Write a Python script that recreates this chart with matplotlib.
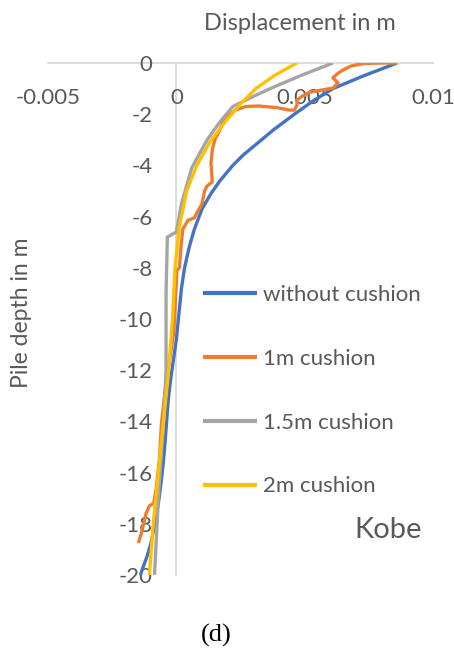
import matplotlib
matplotlib.use('Agg')
import matplotlib.pyplot as plt

plt.rcParams['font.family'] = ['Lato', 'DejaVu Sans']

# displacement (m) vs pile depth (m)
blue_x = [0.0086, 0.0073, 0.0061, 0.0053, 0.0046, 0.0038, 0.0032, 0.0026, 0.0022,
          0.0017, 0.00135, 0.0010, 0.0007, 0.0005, 0.00032, 0.0002, 0.0001, 0.0,
          -0.0001, -0.0002, -0.0003, -0.00035, -0.0004, -0.00047, -0.00055,
          -0.00062, -0.0007, -0.0008, -0.0009, -0.0010, -0.00115, -0.0013, -0.0014]
blue_y = [0, -0.5, -1.0, -1.5, -2.0, -2.6, -3.1, -3.6, -4.0, -4.6, -5.1, -5.7, -6.5,
          -7.2, -8.0, -8.8, -9.8, -10.8, -11.5, -12.2, -13.0, -13.6, -14.3, -15.2,
          -16.0, -16.6, -17.2, -17.8, -18.3, -18.8, -19.3, -19.7, -20.0]

orange_x = [0.0086, 0.0080, 0.0073, 0.0068, 0.0065, 0.0063, 0.0061, 0.0063, 0.0061,
            0.0057, 0.0052, 0.0049, 0.0047, 0.0047, 0.0046, 0.0044, 0.0039, 0.0032,
            0.0027, 0.0023, 0.0019, 0.0017, 0.0015, 0.0014, 0.00135, 0.0014, 0.0012,
            0.0011, 0.0010, 0.0008, 0.0007, 0.00045, 0.00025, 0.00018, 0.00012,
            0.00002, -0.00005, -0.0001, -0.00025, -0.00045, -0.00058, -0.00066,
            -0.00078, -0.00088, -0.00105, -0.00118, -0.00137, -0.00148]
orange_y = [0, 0, -0.02, -0.12, -0.27, -0.4, -0.58, -0.78, -0.98, -1.05, -1.14, -1.3,
            -1.45, -1.64, -1.84, -1.84, -1.74, -1.68, -1.7, -1.84, -2.15, -2.6, -3.0,
            -3.4, -3.9, -4.65, -4.8, -5.0, -5.5, -5.85, -6.05, -6.15, -6.5, -7.2,
            -8.0, -8.1, -9.6, -10.5, -11.5, -12.9, -14.1, -15.5, -16.6, -17.2, -17.3,
            -17.6, -18.4, -18.75]

gray_x = [0.0061, 0.0049, 0.0037, 0.0029, 0.0022, 0.0017, 0.0012, 0.0006, 0.0002,
          0.0, -0.00035, -0.0004, -0.0004, -0.00045, -0.0005, -0.0006, -0.0007,
          -0.00085]
gray_y = [0, -0.47, -0.98, -1.35, -1.7, -2.3, -3.0, -4.1, -5.5, -6.6, -6.8, -9.0,
          -12.0, -13.0, -14.0, -15.5, -17.0, -20.0]

yellow_x = [0.0047, 0.0038, 0.0031, 0.0025, 0.0019, 0.0013, 0.0008, 0.0004, 0.0001,
            -0.00005, -0.00015, -0.0003, -0.0005, -0.0007, -0.0009, -0.00105]
yellow_y = [0, -0.5, -1.0, -1.6, -2.3, -3.1, -4.0, -5.0, -6.5, -8.0, -10.0, -12.0,
            -14.0, -16.0, -18.0, -20.0]

series = [
    ('without cushion', blue_x, blue_y, '#4472C4'),
    ('1m cushion', orange_x, orange_y, '#ED7D31'),
    ('1.5m cushion', gray_x, gray_y, '#A5A5A5'),
    ('2m cushion', yellow_x, yellow_y, '#FFC000'),
]

x_ticks = [-0.005, 0, 0.005, 0.01]
x_tick_labels = ['-0.005', '0', '0.005', '0.01']
y_ticks = [-20, -18, -16, -14, -12, -10, -8, -6, -4, -2, 0]

text_color = '#595959'
axis_color = '#D9D9D9'

fig = plt.figure(figsize=(4.54, 6.52), dpi=100)
ax = fig.add_axes([48 / 454, 1 - 575 / 652, 385 / 454, 512 / 652])

for label, xs, ys, color in series:
    ax.plot(xs, ys, color=color, linewidth=2.4, label=label, solid_capstyle='butt')

ax.set_xlim(-0.005, 0.01)
ax.set_ylim(-20, 0)

ax.spines['top'].set_visible(False)
ax.spines['right'].set_visible(False)
ax.spines['bottom'].set_position(('data', 0))
ax.spines['left'].set_position(('data', 0))
for s in ('bottom', 'left'):
    ax.spines[s].set_color(axis_color)
    ax.spines[s].set_linewidth(1.3)
    ax.spines[s].set_zorder(0.5)

ax.set_xticks(x_ticks)
ax.set_xticklabels(x_tick_labels)
ax.set_yticks(y_ticks)
ax.set_yticklabels([str(v) for v in y_ticks])
ax.tick_params(axis='x', length=0, pad=18, labelsize=16, labelcolor=text_color)
ax.tick_params(axis='y', length=0, pad=17, labelsize=16, labelcolor=text_color)

fig.text(300 / 454, 1 - 23 / 652, 'Displacement in m', ha='center', va='center',
         fontsize=17, color=text_color)
fig.text(22 / 454, 1 - 313 / 652, 'Pile depth in m', ha='center', va='center',
         rotation=90, fontsize=16.5, color=text_color)

leg = ax.legend(loc='upper left', bbox_to_anchor=(203 / 454, 1 - 285 / 652),
                bbox_transform=fig.transFigure, frameon=False, fontsize=16,
                handlelength=2.45, handletextpad=0.25, labelspacing=1.97,
                borderaxespad=0, borderpad=0)
for t in leg.get_texts():
    t.set_color(text_color)
for h in leg.legend_handles:
    h.set_linewidth(3)

fig.text(388 / 454, 1 - 530 / 652, 'Kobe', ha='center', va='center',
         fontsize=21, color=text_color)
fig.text(216 / 454, 1 - 635 / 652, '(d)', ha='center', va='center',
         fontsize=19, family='Liberation Serif', color='black')

fig.savefig('out.png', dpi=100)
